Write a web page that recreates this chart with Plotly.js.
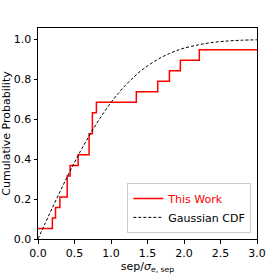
<!DOCTYPE html>
<html><head><meta charset="utf-8">
<script src="https://cdn.plot.ly/plotly-3.0.1.min.js"></script>
<style>html,body{margin:0;padding:0;background:#fff}#c{width:274px;height:274px}</style>
</head><body><div id="c"></div>
<script>
// Empirical step data (sep / sigma): x positions of steps and cumulative counts (n = 19)
const stepX = [0, 0.197, 0.24, 0.30, 0.40, 0.44, 0.55, 0.70, 0.745, 0.80, 1.347, 1.64, 1.80, 1.95, 2.21, 3.0];
const stepCounts = [1, 2, 3, 4, 6, 7, 8, 10, 12, 13, 14, 15, 16, 17, 18, 18];
const nSamples = 19;
// Gaussian CDF curve
const gaussX = [0, 0.1, 0.2, 0.3, 0.4, 0.5, 0.6, 0.7, 0.8, 0.9, 1.0, 1.1, 1.2, 1.3, 1.4, 1.5, 1.6, 1.7, 1.8, 1.9, 2.0, 2.2, 2.4, 2.6, 2.8, 3.0];
const gaussY = [0, 0.080, 0.159, 0.236, 0.311, 0.383, 0.452, 0.516, 0.576, 0.632, 0.683, 0.729, 0.770, 0.806, 0.839, 0.866, 0.890, 0.911, 0.928, 0.943, 0.955, 0.972, 0.984, 0.991, 0.995, 0.997];
const xTicks = [0, 0.5, 1.0, 1.5, 2.0, 2.5, 3.0];
const yTicks = [0, 0.2, 0.4, 0.6, 0.8, 1.0];

const stepY = stepCounts.map(c => c / nSamples);
const font = {family: 'DejaVu Sans', size: 11, color: '#000'};

const traces = [
  {x: stepX, y: stepY, type: 'scatter', mode: 'lines', line: {shape: 'hv', color: '#ff0000', width: 1.5},
   name: '<span style="color:#ff0000">This Work</span>'},
  {x: gaussX, y: gaussY, type: 'scatter', mode: 'lines', line: {shape: 'spline', color: '#000', width: 1, dash: '3px,2px'},
   name: 'Gaussian CDF'}
];
const axis = {showgrid: false, zeroline: false, showline: true, linecolor: '#000', linewidth: 1, mirror: true,
  ticks: 'outside', ticklen: 3.5, tickwidth: 1, tickcolor: '#000', tickfont: font, tickformat: '.1f'};
const layout = {
  width: 274, height: 274,
  margin: {l: 38, r: 16.5, t: 28, b: 34.5},
  paper_bgcolor: '#fff', plot_bgcolor: '#fff',
  font: font,
  showlegend: true,
  xaxis: Object.assign({}, axis, {range: [0, 3], tickvals: xTicks,
    title: {text: 'sep/<i>σ</i><sub>e, sep</sub>', font: font, standoff: 2}}),
  yaxis: Object.assign({}, axis, {range: [0, 1.056], tickvals: yTicks,
    title: {text: 'Cumulative Probability', font: font, standoff: 2}}),
  legend: {x: 0.974, y: 0.029, xanchor: 'right', yanchor: 'bottom', bgcolor: 'rgba(255,255,255,0.8)',
    bordercolor: '#cccccc', borderwidth: 1, font: font, tracegroupgap: 0, itemwidth: 30}
};
Plotly.newPlot('c', traces, layout, {staticPlot: true, displayModeBar: false});
</script>
</body></html>
